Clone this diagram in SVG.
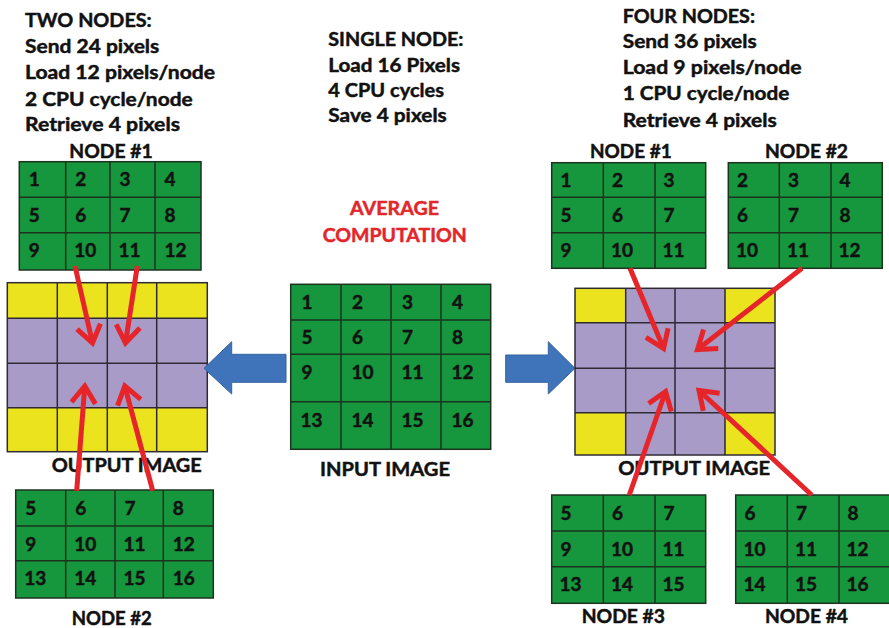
<svg xmlns="http://www.w3.org/2000/svg" width="889" height="628" viewBox="0 0 889 628">
  <style>
    .t { font-family: Lato, "Open Sans", sans-serif; font-weight: 700; font-size: 18px; fill: #111; stroke: #111; stroke-width: 0.45; }
    .n { font-family: Lato, "Open Sans", sans-serif; font-weight: 700; font-size: 19px; fill: #111; stroke: #111; stroke-width: 0.45; }
    .red { fill: #e2262b; stroke: #e2262b; }
    .grn { fill: #16963d; stroke: #1c3320; stroke-width: 1.5; }
    .gl { fill: none; stroke: #1c3320; stroke-width: 1.5; }
    .ol { fill: none; stroke: #2e2a33; stroke-width: 1.5; }
    .yel { fill: #ece31f; }
    .pur { fill: #a89bc7; }
    .blue { fill: #3f74bb; stroke: #33639f; stroke-width: 1; }
    .link { fill: none; stroke: #e5252a; stroke-width: 5; marker-end: url(#open); }
  </style>
  <defs>
    <marker id="open" markerUnits="userSpaceOnUse" markerWidth="30" markerHeight="30" refX="0" refY="0" viewBox="-22 -15 26 30" orient="auto">
      <path d="M-17 -12 L0 0 L-17 12" fill="none" stroke="#e5252a" stroke-width="5" stroke-linejoin="miter"/>
    </marker>
  </defs>
  <rect width="889" height="628" fill="#fff"/>

  <!-- cost summaries -->
  <g id="two-nodes-summary" class="t">
    <text x="25" y="26.7" textLength="126.7" lengthAdjust="spacingAndGlyphs">TWO NODES:</text>
    <text x="25" y="52.7" textLength="134.3" lengthAdjust="spacingAndGlyphs">Send 24 pixels</text>
    <text x="25" y="79" textLength="190" lengthAdjust="spacingAndGlyphs">Load 12 pixels/node</text>
    <text x="25" y="105.5" textLength="167.7" lengthAdjust="spacingAndGlyphs">2 CPU cycle/node</text>
    <text x="25" y="130.7" textLength="155" lengthAdjust="spacingAndGlyphs">Retrieve 4 pixels</text>
  </g>
  <g id="single-node-summary" class="t">
    <text x="328.3" y="46" textLength="135" lengthAdjust="spacingAndGlyphs">SINGLE NODE:</text>
    <text x="328.3" y="72" textLength="131.7" lengthAdjust="spacingAndGlyphs">Load 16 Pixels</text>
    <text x="328.3" y="97" textLength="115.7" lengthAdjust="spacingAndGlyphs">4 CPU cycles</text>
    <text x="328.3" y="122" textLength="118.4" lengthAdjust="spacingAndGlyphs">Save 4 pixels</text>
  </g>
  <g id="four-nodes-summary" class="t">
    <text x="622.7" y="22.7" textLength="132.3" lengthAdjust="spacingAndGlyphs">FOUR NODES:</text>
    <text x="622.7" y="48.3" textLength="134" lengthAdjust="spacingAndGlyphs">Send 36 pixels</text>
    <text x="622.7" y="74" textLength="179" lengthAdjust="spacingAndGlyphs">Load 9 pixels/node</text>
    <text x="622.7" y="100" textLength="166.6" lengthAdjust="spacingAndGlyphs">1 CPU cycle/node</text>
    <text x="622.7" y="126.7" textLength="154" lengthAdjust="spacingAndGlyphs">Retrieve 4 pixels</text>
  </g>

  <!-- two-node split: node #1 -->
  <g id="two-node-1">
    <text class="t" x="69.3" y="158.3" textLength="83.4" lengthAdjust="spacingAndGlyphs">NODE #1</text>
    <rect class="grn" x="19.3" y="161.7" width="181.7" height="108.3"/>
    <path class="gl" d="M65.7 161.7V270M110 161.7V270M155 161.7V270M19.3 197.3H201M19.3 232.7H201"/>
    <g class="n">
      <text x="28.8" y="186.2">1</text><text x="75.2" y="186.2">2</text><text x="119.5" y="186.2">3</text><text x="164.5" y="186.2">4</text>
      <text x="28.8" y="221.8">5</text><text x="75.2" y="221.8">6</text><text x="119.5" y="221.8">7</text><text x="164.5" y="221.8">8</text>
      <text x="28.8" y="257.2">9</text><text x="74.2" y="257.2">10</text><text x="118.5" y="257.2">11</text><text x="164.5" y="257.2">12</text>
    </g>
  </g>

  <!-- two-node split: output image -->
  <g id="two-node-output">
    <rect class="yel" x="7.3" y="282.7" width="200" height="35.6"/>
    <rect class="pur" x="7.3" y="318.3" width="200" height="89.4"/>
    <rect class="yel" x="7.3" y="407.7" width="200" height="44"/>
    <rect class="ol" x="7.3" y="282.7" width="200" height="169"/>
    <path class="ol" d="M57.3 282.7V451.7M107.3 282.7V451.7M156.7 282.7V451.7M7.3 318.3H207.3M7.3 363.3H207.3M7.3 407.7H207.3"/>
    <text class="t" x="51.7" y="471.5" textLength="150" lengthAdjust="spacingAndGlyphs">OUTPUT IMAGE</text>
  </g>

  <!-- two-node split: node #2 -->
  <g id="two-node-2">
    <rect class="grn" x="15.7" y="490" width="197.6" height="108"/>
    <path class="gl" d="M65.7 490V598M115 490V598M163.3 490V598M15.7 526H213.3M15.7 560.7H213.3"/>
    <g class="n">
      <text x="25.2" y="514.5">5</text><text x="75.2" y="514.5">6</text><text x="124.5" y="514.5">7</text><text x="172.8" y="514.5">8</text>
      <text x="25.2" y="550.5">9</text><text x="74.2" y="550.5">10</text><text x="123.5" y="550.5">11</text><text x="172.8" y="550.5">12</text>
      <text x="24.2" y="585.2">13</text><text x="74.2" y="585.2">14</text><text x="123.5" y="585.2">15</text><text x="172.8" y="585.2">16</text>
    </g>
    <text class="t" x="71.7" y="625" textLength="80" lengthAdjust="spacingAndGlyphs">NODE #2</text>
  </g>

  <!-- single node: input image -->
  <g id="input-image">
    <text class="t red" x="350" y="215" textLength="89" lengthAdjust="spacingAndGlyphs">AVERAGE</text>
    <text class="t red" x="322.7" y="241.7" textLength="144" lengthAdjust="spacingAndGlyphs">COMPUTATION</text>
    <rect class="grn" x="290.7" y="284.3" width="200" height="165"/>
    <path class="gl" d="M341 284.3V449.3M391 284.3V449.3M441 284.3V449.3M290.7 320H490.7M290.7 354.3H490.7M290.7 401.7H490.7"/>
    <g class="n">
      <text x="301.5" y="309">1</text><text x="352" y="309">2</text><text x="402" y="309">3</text><text x="452" y="309">4</text>
      <text x="301.5" y="344">5</text><text x="352" y="344">6</text><text x="402" y="344">7</text><text x="452" y="344">8</text>
      <text x="301.5" y="378.5">9</text><text x="351.5" y="378.5">10</text><text x="401.5" y="378.5">11</text><text x="451.5" y="378.5">12</text>
      <text x="300.5" y="426.5">13</text><text x="351.5" y="426.5">14</text><text x="401.5" y="426.5">15</text><text x="451.5" y="426.5">16</text>
    </g>
    <text class="t" x="320" y="476" textLength="130" lengthAdjust="spacingAndGlyphs">INPUT IMAGE</text>
  </g>

  <!-- block arrows from the input image to each split -->
  <g id="to-two-nodes">
    <polygon class="blue" points="204,368.3 231.7,341.7 231.7,354.3 286,354.3 286,382.3 231.7,382.3 231.7,394"/>
  </g>
  <g id="to-four-nodes">
    <polygon class="blue" points="575,368.3 548.3,341.7 548.3,355 505.7,355 505.7,382.3 548.3,382.3 548.3,394"/>
  </g>

  <!-- four-node split: node #1 -->
  <g id="four-node-1">
    <text class="t" x="590" y="158.3" textLength="81.7" lengthAdjust="spacingAndGlyphs">NODE #1</text>
    <rect class="grn" x="551.7" y="162.7" width="154" height="105.6"/>
    <path class="gl" d="M603.3 162.7V268.3M655 162.7V268.3M551.7 197.3H705.7M551.7 232.7H705.7"/>
    <g class="n">
      <text x="560.5" y="187.2">1</text><text x="612" y="187.2">2</text><text x="663.5" y="187.2">3</text>
      <text x="560.5" y="221.8">5</text><text x="612" y="221.8">6</text><text x="663.5" y="221.8">7</text>
      <text x="560.5" y="257.2">9</text><text x="611" y="257.2">10</text><text x="662.5" y="257.2">11</text>
    </g>
  </g>

  <!-- four-node split: node #2 -->
  <g id="four-node-2">
    <text class="t" x="765" y="158.3" textLength="83" lengthAdjust="spacingAndGlyphs">NODE #2</text>
    <rect class="grn" x="728.3" y="162.7" width="154" height="105.6"/>
    <path class="gl" d="M779.3 162.7V268.3M831 162.7V268.3M728.3 197.3H882.3M728.3 232.7H882.3"/>
    <g class="n">
      <text x="737" y="187.2">2</text><text x="788" y="187.2">3</text><text x="839.5" y="187.2">4</text>
      <text x="737" y="221.8">6</text><text x="788" y="221.8">7</text><text x="839.5" y="221.8">8</text>
      <text x="736" y="257.2">10</text><text x="787" y="257.2">11</text><text x="838.5" y="257.2">12</text>
    </g>
  </g>

  <!-- four-node split: output image -->
  <g id="four-node-output">
    <rect class="pur" x="575" y="288.3" width="200" height="166.7"/>
    <rect class="yel" x="575" y="288.3" width="50.7" height="34.4"/>
    <rect class="yel" x="725" y="288.3" width="50" height="34.4"/>
    <rect class="yel" x="575" y="412.7" width="50.7" height="42.3"/>
    <rect class="yel" x="725" y="412.7" width="50" height="42.3"/>
    <rect class="ol" x="575" y="288.3" width="200" height="166.7"/>
    <path class="ol" d="M625.7 288.3V455M675 288.3V455M725 288.3V455M575 322.7H775M575 368.3H775M575 412.7H775"/>
    <text class="t" x="618.3" y="475" textLength="151.7" lengthAdjust="spacingAndGlyphs">OUTPUT IMAGE</text>
  </g>

  <!-- four-node split: node #3 -->
  <g id="four-node-3">
    <rect class="grn" x="551.7" y="495" width="154" height="108.3"/>
    <path class="gl" d="M603.3 495V603.3M655 495V603.3M551.7 531H705.7M551.7 566.7H705.7"/>
    <g class="n">
      <text x="560.5" y="519.5">5</text><text x="612" y="519.5">6</text><text x="663.5" y="519.5">7</text>
      <text x="560.5" y="555.5">9</text><text x="611" y="555.5">10</text><text x="662.5" y="555.5">11</text>
      <text x="559.5" y="591.2">13</text><text x="611" y="591.2">14</text><text x="662.5" y="591.2">15</text>
    </g>
    <text class="t" x="581.7" y="623.3" textLength="83.3" lengthAdjust="spacingAndGlyphs">NODE #3</text>
  </g>

  <!-- four-node split: node #4 (runs off the right edge) -->
  <g id="four-node-4">
    <rect class="grn" x="735.7" y="495" width="155" height="108.3"/>
    <path class="gl" d="M787.3 495V603.3M839 495V603.3M735.7 531H890.7M735.7 566.7H890.7"/>
    <g class="n">
      <text x="744.5" y="519.5">6</text><text x="796" y="519.5">7</text><text x="847.5" y="519.5">8</text>
      <text x="743.5" y="555.5">10</text><text x="795" y="555.5">11</text><text x="846.5" y="555.5">12</text>
      <text x="743.5" y="591.2">14</text><text x="795" y="591.2">15</text><text x="846.5" y="591.2">16</text>
    </g>
    <text class="t" x="765" y="623.3" textLength="83" lengthAdjust="spacingAndGlyphs">NODE #4</text>
  </g>

  <!-- red arrows: node pixels feeding the output pixels -->
  <g id="connectors">
    <line class="link" x1="75" y1="266" x2="92.5" y2="343"/>
    <line class="link" x1="137.3" y1="266" x2="125.5" y2="343"/>
    <line class="link" x1="76.7" y1="490.7" x2="84.8" y2="386"/>
    <line class="link" x1="152.7" y1="490.7" x2="124.8" y2="386"/>
    <line class="link" x1="630" y1="268.3" x2="663.6" y2="348.5"/>
    <line class="link" x1="802" y1="268.3" x2="697.5" y2="349.5"/>
    <line class="link" x1="629.3" y1="495" x2="665.6" y2="391.5"/>
    <line class="link" x1="811.7" y1="495" x2="699" y2="390.5"/>
  </g>
</svg>
